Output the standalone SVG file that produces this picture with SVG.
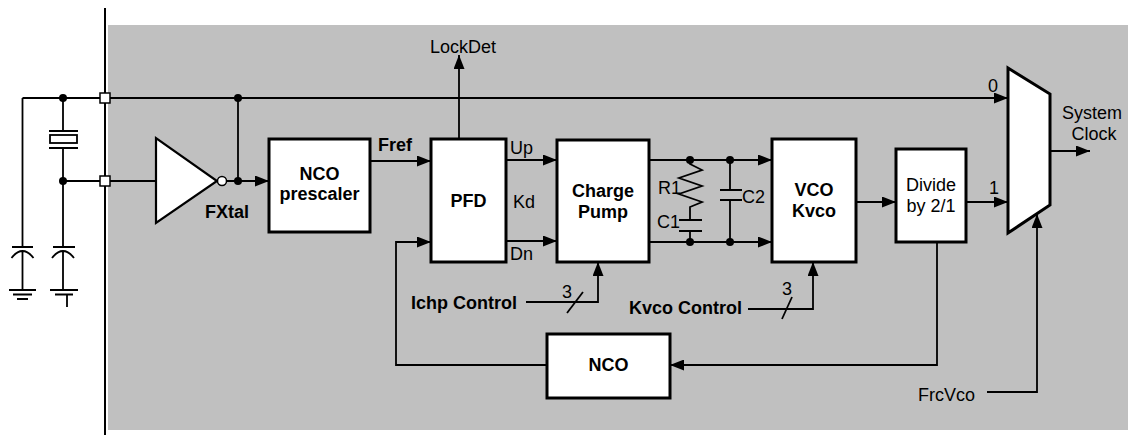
<svg xmlns="http://www.w3.org/2000/svg" width="1128" height="435" viewBox="0 0 1128 435">
<defs>
<marker id="arr" markerUnits="userSpaceOnUse" markerWidth="14" markerHeight="11" refX="14" refY="5.5" orient="auto">
<path d="M0,0 L14,5.5 L0,11 z" fill="#000"/>
</marker>
</defs>
<style>
.w{fill:none;stroke:#000;stroke-width:1.8}
.a{fill:none;stroke:#000;stroke-width:1.8;marker-end:url(#arr)}
.box{fill:#fff;stroke:#000;stroke-width:3}
.t{font-family:"Liberation Sans",Arial,sans-serif;font-size:18px;fill:#000}
.b{font-family:"Liberation Sans",Arial,sans-serif;font-size:18px;font-weight:bold;fill:#000}
.m{text-anchor:middle}
.dot{fill:#000}
</style>
<rect x="108" y="25" width="1020" height="405" fill="#c0c0c0"/>
<line x1="105" y1="8" x2="105" y2="435" stroke="#000" stroke-width="2"/>

<g id="external">
<path class="w" d="M22.5,98 H105 M22.5,98 V247 M63,98 V131 M63,148 V181 H105 M63,181 V247"/>
<path class="w" d="M49,131 H78 M49,148 H78"/>
<rect x="50" y="135" width="27" height="8" fill="#fff" stroke="#000" stroke-width="1.8"/>
<path class="w" d="M12,247 H33 M11.5,258 Q22.5,244 33.5,258 M22.5,250.5 V290 M9,290 H36 M13,294.5 H32 M17,299 H28"/>
<path class="w" d="M53,247 H75 M52,258 Q63,244 74,258 M63,250.5 V290 M50,290 H78 M55,294.5 H73 M67,294.5 V307"/>
<circle class="dot" cx="63" cy="98" r="4"/>
<circle class="dot" cx="63" cy="181" r="4"/>
<rect x="100" y="93" width="10" height="10" fill="#fff" stroke="#000" stroke-width="1.5"/>
<rect x="100" y="176" width="10" height="10" fill="#fff" stroke="#000" stroke-width="1.5"/>
</g>

<g id="connectors">
<path class="a" d="M110,98 H1008"/>
<path class="w" d="M110,181 H156"/>
<path class="w" d="M238,98 V181"/>
<path class="a" d="M227,181 H269"/>
<path class="a" d="M370,161 H431"/>
<path class="a" d="M459,139 V55"/>
<path class="a" d="M506,160 H557"/>
<path class="a" d="M506,241 H557"/>
<path class="a" d="M649,160 H772"/>
<path class="a" d="M649,242 H772"/>
<path class="a" d="M856,202 H896"/>
<path class="a" d="M966,202 H1008"/>
<path class="a" d="M1050,151 H1090"/>
<path class="a" d="M987,392 H1037 V214"/>
<path class="a" d="M937,242 V365 H670"/>
<path class="a" d="M547,365 H396 V242 H431"/>
<path class="a" d="M526,302 H598 V262"/>
<path class="a" d="M748,309 H813 V262"/>
<path class="w" stroke-width="1.2" d="M567,313 L583,292"/>
<path class="w" stroke-width="1.2" d="M782,319 L792,297"/>
<circle class="dot" cx="238" cy="98" r="4"/>
<circle class="dot" cx="238" cy="181" r="4"/>
</g>

<g id="buffer">
<polygon points="156,138 156,223 217,181" fill="#fff" stroke="#000" stroke-width="2.2"/>
<circle cx="222" cy="181" r="4.5" fill="#fff" stroke="#000" stroke-width="1.5"/>
<text class="b" x="205" y="218">FXtal</text>
</g>

<g id="nco-prescaler">
<rect class="box" x="269" y="139" width="101" height="93"/>
<text class="b m" x="319.5" y="180">NCO</text>
<text class="b m" x="319.5" y="200">prescaler</text>
<text class="b" x="378" y="151">Fref</text>
</g>

<g id="pfd">
<rect class="box" x="431" y="139" width="75" height="123"/>
<text class="b m" x="468.5" y="207">PFD</text>
<text class="t m" x="463" y="53">LockDet</text>
<text class="t" x="510" y="154">Up</text>
<text class="t" x="513" y="208">Kd</text>
<text class="t" x="510" y="260">Dn</text>
</g>

<g id="charge-pump">
<rect class="box" x="557" y="140" width="92" height="122"/>
<text class="b m" x="603" y="197">Charge</text>
<text class="b m" x="603" y="218">Pump</text>
<text class="b" x="411" y="309">Ichp Control</text>
<text class="t" x="562" y="298">3</text>
</g>

<g id="loop-filter">
<path class="w" d="M690,160 V164 L702,170 L679,178 L702,186 L679,194 L702,202 L690,207 V220 M679,220 H702 M679,231 H702 M690,231 V242"/>
<path class="w" d="M730,160 V190 M720,190 H742 M720,200 H742 M730,200 V242"/>
<circle class="dot" cx="690" cy="160" r="4"/>
<circle class="dot" cx="730" cy="160" r="4"/>
<circle class="dot" cx="690" cy="242" r="4"/>
<circle class="dot" cx="730" cy="242" r="4"/>
<text class="t" x="658" y="194">R1</text>
<text class="t" x="657" y="228">C1</text>
<text class="t" x="742" y="203">C2</text>
</g>

<g id="vco">
<rect class="box" x="772" y="139" width="84" height="123"/>
<text class="b m" x="814" y="196">VCO</text>
<text class="b m" x="814" y="217">Kvco</text>
<text class="b" x="629" y="314">Kvco Control</text>
<text class="t" x="782" y="295">3</text>
</g>

<g id="divider">
<rect class="box" x="896" y="149" width="70" height="93"/>
<text class="t m" x="931" y="191">Divide</text>
<text class="t m" x="931" y="212">by 2/1</text>
</g>

<g id="mux">
<polygon points="1008,68 1050,94 1050,205 1008,233" fill="#fff" stroke="#000" stroke-width="3"/>
<text class="t" x="988" y="92">0</text>
<text class="t" x="989" y="194">1</text>
<text class="t m" x="1092" y="119">System</text>
<text class="t m" x="1094" y="140">Clock</text>
<text class="t" x="918" y="401">FrcVco</text>
</g>

<g id="nco">
<rect class="box" x="547" y="334" width="123" height="64"/>
<text class="b m" x="608.5" y="371">NCO</text>
</g>
</svg>
